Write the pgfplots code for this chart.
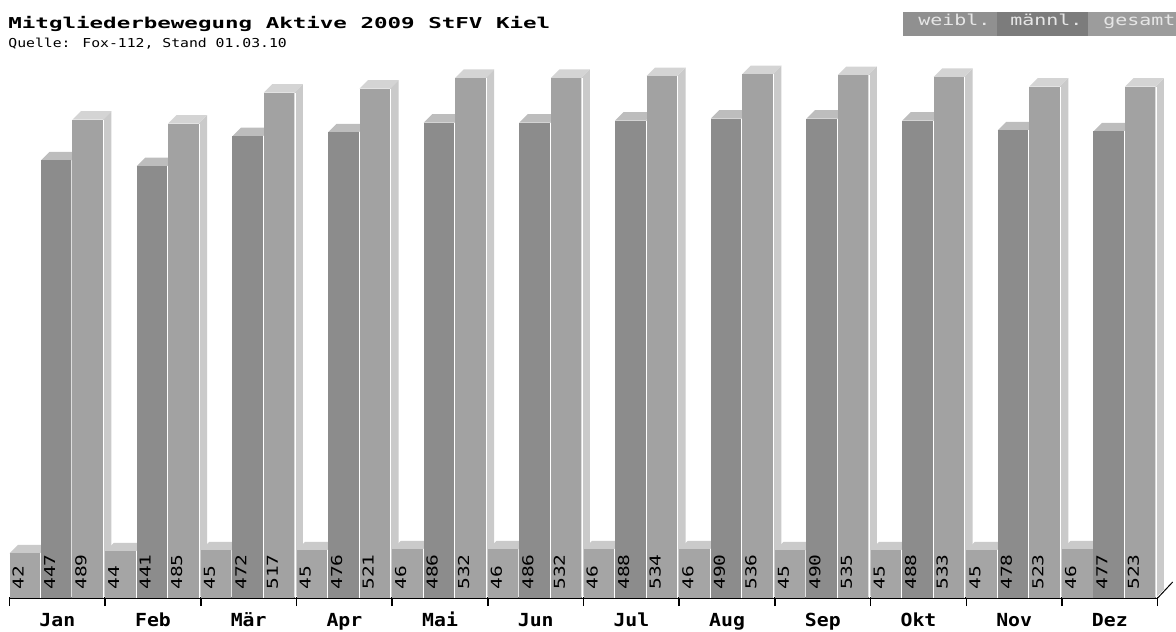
\documentclass[border=0pt]{standalone}
\usepackage{pgfplots}
\pgfplotsset{compat=1.18}
\usepackage{pgfplotstable}
\usepackage{graphicx}
\usepackage{fontspec}
\setmainfont{DejaVu Sans Mono}
\newfontfamily\titlefont[FakeStretch=1.5]{DejaVu Sans Mono}
\newfontfamily\subfont[FakeStretch=1.2]{DejaVu Sans Mono}
\newfontfamily\legfont[FakeStretch=1.33]{DejaVu Sans Mono}
\newfontfamily\valfont{DejaVu Sans Mono}
\newfontfamily\monfont[FakeStretch=1.1]{DejaVu Sans Mono}

\definecolor{wf}{HTML}{A5A5A5}
\definecolor{wt}{HTML}{CACACA}
\definecolor{ws}{HTML}{D4D4D4}
\definecolor{mf}{HTML}{8C8C8C}
\definecolor{mt}{HTML}{BDBDBD}
\definecolor{ms}{HTML}{CCCCCC}
\definecolor{gf}{HTML}{A2A2A2}
\definecolor{gt}{HTML}{D4D4D4}
\definecolor{gs}{HTML}{CACACA}
\definecolor{lw}{HTML}{909090}
\definecolor{lm}{HTML}{7C7C7C}
\definecolor{lg}{HTML}{9C9C9C}
\definecolor{lt}{HTML}{E6E6E6}

% m = month index, s = series (0 weibl., 1 maennl., 2 gesamt), v = value
\pgfplotstableread{
m s v
0 0 42
0 1 447
0 2 489
1 0 44
1 1 441
1 2 485
2 0 45
2 1 472
2 2 517
3 0 45
3 1 476
3 2 521
4 0 46
4 1 486
4 2 532
5 0 46
5 1 486
5 2 532
6 0 46
6 1 488
6 2 534
7 0 46
7 1 490
7 2 536
8 0 45
8 1 490
8 2 535
9 0 45
9 1 488
9 2 533
10 0 45
10 1 478
10 2 523
11 0 46
11 1 477
11 2 523
}\bardata

\newdimen\bb \newdimen\bt \newdimen\sd
\pgfdeclareplotmark{bar3d}{%
  \bb=\val pt \bb=-0.485\bb \advance\bb by -2pt
  \bt=\bb \advance\bt by 4.25pt
  \sd=\ser pt
  \ifdim\sd<0.5pt \def\cf{wf}\def\ct{wt}\def\cs{ws}\else
    \ifdim\sd<1.5pt \def\cf{mf}\def\ct{mt}\def\cs{ms}\else
      \def\cf{gf}\def\ct{gt}\def\cs{gs}\fi\fi
  \pgfsetfillcolor{\cs}%
  \pgfpathmoveto{\pgfqpoint{7.625pt}{\bb}}%
  \pgfpathlineto{\pgfqpoint{11.875pt}{\bt}}%
  \pgfpathlineto{\pgfqpoint{11.875pt}{4.25pt}}%
  \pgfpathlineto{\pgfqpoint{7.625pt}{0pt}}%
  \pgfpathclose
  \pgfusepath{fill}%
  \pgfsetfillcolor{\ct}%
  \pgfpathmoveto{\pgfqpoint{-7.625pt}{0pt}}%
  \pgfpathlineto{\pgfqpoint{7.625pt}{0pt}}%
  \pgfpathlineto{\pgfqpoint{11.875pt}{4.25pt}}%
  \pgfpathlineto{\pgfqpoint{-3.375pt}{4.25pt}}%
  \pgfpathclose
  \pgfusepath{fill}%
  \pgfsetfillcolor{\cf}%
  \pgfpathrectanglecorners{\pgfqpoint{-7.625pt}{\bb}}{\pgfqpoint{7.625pt}{0pt}}%
  \pgfusepath{fill}%
  \pgfsetstrokecolor{white}\pgfsetlinewidth{0.4pt}%
  \pgfpathmoveto{\pgfqpoint{7.9pt}{\bb}}%
  \pgfpathlineto{\pgfqpoint{7.9pt}{0pt}}%
  \pgfusepath{stroke}%
}

\begin{document}
\begin{tikzpicture}
\useasboundingbox (0,0) rectangle (588pt,315.5pt);
\begin{axis}[
  at={(4.75pt,16.5pt)}, anchor=south west,
  x=47.84pt, y=0.485pt,
  xmin=0, xmax=12, ymin=-4.1237, ymax=560,
  enlargelimits=false,
  clip=false,
  axis x line=bottom, axis y line=none,
  x axis line style={-, line width=0.8pt, black},
  xtick={0.5,1.5,...,11.5},
  xticklabels={Jan,Feb,Mär,Apr,Mai,Jun,Jul,Aug,Sep,Okt,Nov,Dez},
  major tick length=0pt,
  minor xtick={0,1,...,12},
  minor tick length=4pt,
  tick align=outside,
  minor tick style={black, line width=0.8pt},
  ytick=\empty,
  xticklabel style={font=\fontsize{9pt}{10pt}\monfont\bfseries, anchor=base, yshift=-14pt, inner sep=0pt},
]
\addplot[scatter, only marks, mark=bar3d,
  visualization depends on={\thisrow{v} \as \val},
  visualization depends on={\thisrow{s} \as \ser},
] table[x expr=\thisrow{m}+0.1594+0.3292*\thisrow{s}, y=v] {\bardata};
% value labels, set upright at the foot of each bar
\addplot[only marks, mark=none, point meta=\thisrow{v},
  nodes near coords={\scalebox{1.3}[1]{\pgfmathprintnumber[fixed,precision=0,assume math mode=true]{\pgfplotspointmeta}}},
  every node near coord/.style={xshift=-0.625pt, rotate=90, anchor=base west, inner sep=0pt,
    font=\fontsize{7.5pt}{8pt}\valfont, text=black},
] table[x expr=\thisrow{m}+0.1594+0.3292*\thisrow{s}, y expr=4.12] {\bardata};
\draw[line width=0.5pt] (axis cs:12,-4.1237) -- ++(7.5pt,8pt);
\end{axis}
\node[anchor=base west, inner sep=0pt, font=\fontsize{7.5pt}{9pt}\titlefont\bfseries] at (4pt,301pt) {Mitgliederbewegung Aktive 2009 StFV Kiel};
\node[anchor=base west, inner sep=0pt, font=\fontsize{6.15pt}{7pt}\subfont] at (4pt,291.5pt) {Quelle: Fox-112, Stand 01.03.10};
\fill[lw] (451.5pt,297.5pt) rectangle (498.5pt,309.5pt);
\fill[lm] (498.5pt,297.5pt) rectangle (544pt,309.5pt);
\fill[lg] (544pt,297.5pt) rectangle (588pt,309.5pt);
\node[anchor=base west, inner sep=0pt, text=lt, font=\fontsize{7.5pt}{8pt}\legfont] at (459pt,302.5pt) {weibl.};
\node[anchor=base west, inner sep=0pt, text=lt, font=\fontsize{7.5pt}{8pt}\legfont] at (505pt,302.5pt) {männl.};
\node[anchor=base west, inner sep=0pt, text=lt, font=\fontsize{7.5pt}{8pt}\legfont] at (551.5pt,302.5pt) {gesamt};
\end{tikzpicture}
\end{document}
